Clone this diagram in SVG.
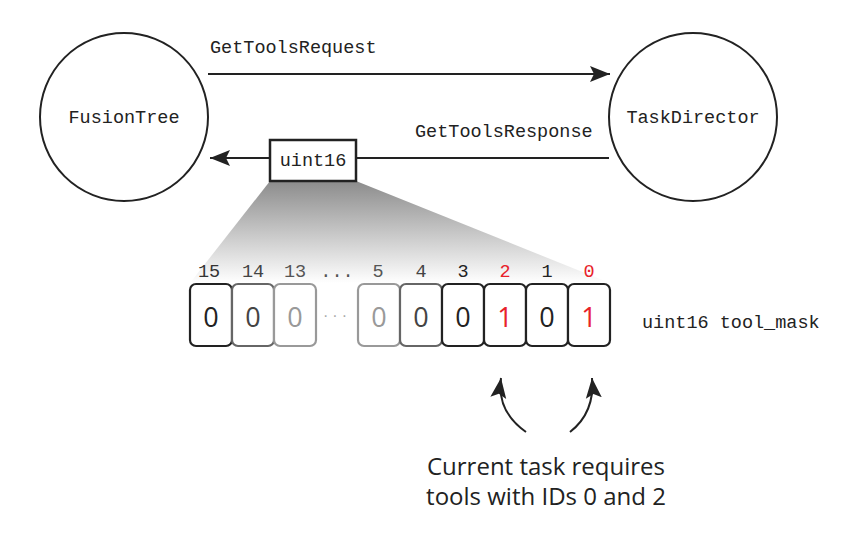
<svg xmlns="http://www.w3.org/2000/svg" width="866" height="533" viewBox="0 0 866 533">
<style>
.mono{font-family:"Liberation Mono","DejaVu Sans Mono",monospace;font-size:18.5px;fill:#222}
.node{fill:#fff;stroke:#222;stroke-width:2}
.cell{fill:#fff;stroke-width:2.2}
.dig{font-family:"Open Sans","Liberation Sans",sans-serif;font-size:27px;text-anchor:middle}
.idx{font-family:"Liberation Mono","DejaVu Sans Mono",monospace;font-size:18.5px;text-anchor:middle}
.line{stroke:#222;stroke-width:2;fill:none}
.cap{font-family:"Open Sans","Liberation Sans",sans-serif;font-size:24px;fill:#222;text-anchor:middle}
</style>
<defs>
<linearGradient id="g" x1="0" y1="0" x2="0" y2="1">
<stop offset="0" stop-color="#8c8c8c"/>
<stop offset="1" stop-color="#ffffff"/>
</linearGradient>
<marker id="ah" markerWidth="22" markerHeight="18" refX="20" refY="9" orient="auto" markerUnits="userSpaceOnUse">
<path d="M0,1 L20,9 L0,17 L4,9 Z" fill="#222"/>
</marker>
</defs>
<g id="zoom">
<polygon points="270,181 356,181 610,283 190,283" fill="url(#g)"/>
</g>
<g id="FusionTree">
<circle class="node" cx="124" cy="117" r="84"/>
<text class="mono" x="124" y="123" text-anchor="middle">FusionTree</text>
</g>
<g id="TaskDirector">
<circle class="node" cx="693" cy="117" r="84"/>
<text class="mono" x="693" y="123" text-anchor="middle">TaskDirector</text>
</g>
<g id="connectors">
<line class="line" x1="208" y1="74" x2="610" y2="74" marker-end="url(#ah)"/>
<text class="mono" x="210" y="53">GetToolsRequest</text>
<line class="line" x1="609" y1="158" x2="356" y2="158"/>
<line class="line" x1="270" y1="158" x2="210" y2="158" marker-end="url(#ah)"/>
<text class="mono" x="415" y="137">GetToolsResponse</text>
<path class="line" d="M526,432 C506,418 498,400 501,378" stroke-width="2.2" marker-end="url(#ah)"/>
<path class="line" d="M570,432 C588,418 594,400 592,378" stroke-width="2.2" marker-end="url(#ah)"/>
</g>
<g id="uint16">
<rect x="270" y="140" width="86" height="41" fill="#fff" stroke="#222" stroke-width="2.5"/>
<text class="mono" x="313" y="166" text-anchor="middle">uint16</text>
</g>
<g id="bits">
<rect class="cell" x="190" y="284" width="42" height="62" rx="6" stroke="#222"/>
<rect class="cell" x="232" y="284" width="42" height="62" rx="6" stroke="#666"/>
<rect class="cell" x="274" y="284" width="42" height="62" rx="6" stroke="#999"/>
<rect class="cell" x="358" y="284" width="42" height="62" rx="6" stroke="#999"/>
<rect class="cell" x="400" y="284" width="42" height="62" rx="6" stroke="#666"/>
<rect class="cell" x="442" y="284" width="42" height="62" rx="6" stroke="#222"/>
<rect class="cell" x="484" y="284" width="42" height="62" rx="6" stroke="#222"/>
<rect class="cell" x="526" y="284" width="42" height="62" rx="6" stroke="#222"/>
<rect class="cell" x="568" y="284" width="42" height="62" rx="6" stroke="#222"/>
<text class="dig" x="211" y="327" fill="#222">0</text>
<text class="dig" x="253" y="327" fill="#444">0</text>
<text class="dig" x="295" y="327" fill="#999">0</text>
<text class="dig" x="379" y="327" fill="#999">0</text>
<text class="dig" x="421" y="327" fill="#444">0</text>
<text class="dig" x="463" y="327" fill="#222">0</text>
<text class="dig" x="505" y="327" fill="#e8222a">1</text>
<text class="dig" x="547" y="327" fill="#222">0</text>
<text class="dig" x="589" y="327" fill="#e8222a">1</text>
<text x="337" y="321" font-family="Liberation Sans,sans-serif" font-size="16" fill="#aaa" text-anchor="middle" letter-spacing="4">···</text>
<text class="idx" x="209" y="277" fill="#333">15</text>
<text class="idx" x="253" y="277" fill="#444">14</text>
<text class="idx" x="295" y="277" fill="#555">13</text>
<text class="idx" x="337" y="277" fill="#555">...</text>
<text class="idx" x="378" y="277" fill="#555">5</text>
<text class="idx" x="421" y="277" fill="#444">4</text>
<text class="idx" x="463" y="277" fill="#222">3</text>
<text class="idx" x="505" y="277" fill="#e8222a">2</text>
<text class="idx" x="547" y="277" fill="#222">1</text>
<text class="idx" x="589" y="277" fill="#e8222a">0</text>
<text class="mono" x="642" y="328">uint16 tool_mask</text>
</g>
<g id="caption">
<text class="cap" x="546" y="475">Current task requires</text>
<text class="cap" x="546" y="505">tools with IDs 0 and 2</text>
</g>
</svg>
